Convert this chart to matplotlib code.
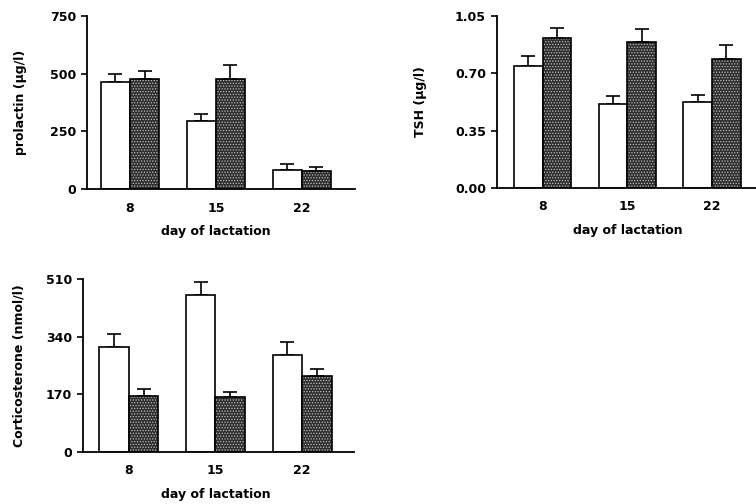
import numpy as np
import matplotlib
matplotlib.use("Agg")
from matplotlib import pyplot as plt

plt.rcParams['font.family'] = ['DejaVu Sans']
plt.rcParams['font.weight'] = 'bold'
plt.rcParams['hatch.linewidth'] = 0.6

days = ['8', '15', '22']

# prolactin (ug/l)
prl_white = [462, 296, 81]
prl_white_err = [36, 28, 27]
prl_dark = [475, 475, 77]
prl_dark_err = [37, 61, 20]

# TSH (ug/l)
tsh_white = [0.744, 0.512, 0.526]
tsh_white_err = [0.061, 0.049, 0.041]
tsh_dark = [0.913, 0.891, 0.785]
tsh_dark_err = [0.064, 0.077, 0.090]

# corticosterone (nmol/l)
cort_white = [309, 462, 285]
cort_white_err = [39, 39, 38]
cort_dark = [165, 161, 223]
cort_dark_err = [21, 15, 21]

W = 0.34
DARK = '#2e2e2e'
FS = 9


def panel(rect, white, white_err, dark, dark_err, yticks, yticklabels, ylabel,
          xlim, ylabel_x):
    ax = fig.add_axes(rect)
    x = np.arange(len(days))
    xw = x - W / 2
    xd = x + W / 2
    ax.bar(xw, white, W, color='white', edgecolor='black', linewidth=1.2, zorder=2)
    # stippled dark bars: dotted fill first, black outline on top
    ax.bar(xd, dark, W, color=DARK, edgecolor='#bdbdbd', hatch='......',
           linewidth=0, zorder=2)
    ax.bar(xd, dark, W, color='none', edgecolor='black', linewidth=1.2, zorder=3)
    ax.errorbar(xw, white, yerr=[np.zeros(3), white_err], fmt='none',
                ecolor='black', elinewidth=1.2, capsize=5, capthick=1.2, zorder=1)
    ax.errorbar(xd, dark, yerr=[np.zeros(3), dark_err], fmt='none',
                ecolor='black', elinewidth=1.2, capsize=5, capthick=1.2, zorder=1)
    ax.set_xlim(*xlim)
    ax.set_ylim(yticks[0], yticks[-1])
    ax.set_yticks(yticks)
    ax.set_yticklabels(yticklabels)
    ax.set_xticks(x)
    ax.set_xticklabels(days)
    ax.tick_params(axis='x', length=0, pad=9, labelsize=FS)
    ax.tick_params(axis='y', length=4, width=1.2, pad=4, labelsize=FS)
    for s in ['top', 'right']:
        ax.spines[s].set_visible(False)
    for s in ['left', 'bottom']:
        ax.spines[s].set_linewidth(1.3)
    ax.set_xlabel('day of lactation', fontsize=FS, fontweight='bold')
    ax.xaxis.set_label_coords((1 - xlim[0]) / (xlim[1] - xlim[0]), -0.21)
    ax.set_ylabel(ylabel, fontsize=FS, fontweight='bold')
    ax.yaxis.set_label_coords(ylabel_x, 0.5)
    return ax


fig = plt.figure(figsize=(7.56, 5.04), dpi=100)

panel([0.1151, 0.625, 0.3545, 0.3433], prl_white, prl_white_err, prl_dark, prl_dark_err,
      [0, 250, 500, 750], ['0', '250', '500', '750'], 'prolactin (µg/l)',
      (-0.5, 2.62), -0.224)
panel([0.6574, 0.627, 0.3426, 0.3413], tsh_white, tsh_white_err, tsh_dark, tsh_dark_err,
      [0, 0.35, 0.70, 1.05], ['0.00', '0.35', '0.70', '1.05'], 'TSH (µg/l)',
      (-0.54, 2.52), -0.27)
panel([0.1098, 0.1032, 0.3585, 0.3433], cort_white, cort_white_err, cort_dark, cort_dark_err,
      [0, 170, 340, 510], ['0', '170', '340', '510'], 'Corticosterone (nmol/l)',
      (-0.53, 2.6), -0.214)

fig.savefig('out.png', dpi=100)
